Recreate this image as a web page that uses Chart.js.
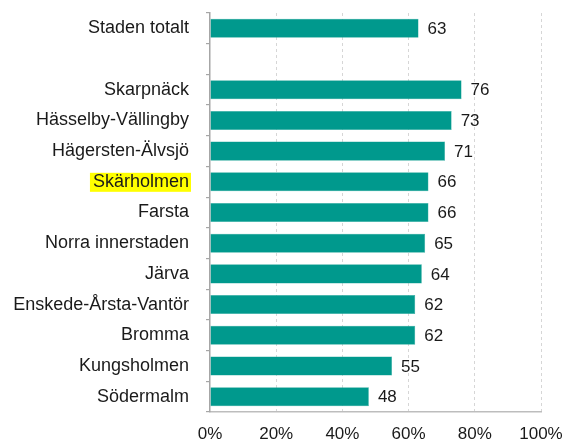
<!DOCTYPE html>
<html>
<head>
<meta charset="utf-8">
<script src="https://cdn.jsdelivr.net/npm/chart.js@4"></script>
<style>
  html, body { margin: 0; padding: 0; background: #fff; }
</style>
</head>
<body>
<canvas id="chart" width="566" height="441"></canvas>
<script>
// districts, top to bottom ('' = empty gap row)
const labels = [
  "Staden totalt", "",
  "Skarpnäck", "Hässelby-Vällingby", "Hägersten-Älvsjö", "Skärholmen",
  "Farsta", "Norra innerstaden", "Järva", "Enskede-Årsta-Vantör",
  "Bromma", "Kungsholmen", "Södermalm"
];
const values = [63, null, 76, 73, 71, 66, 66, 65, 64, 62, 62, 55, 48];
const xTicks = [0, 20, 40, 60, 80, 100];
const highlighted = "Skärholmen";

const FONT = "'Liberation Sans', Arial, sans-serif";
const TEXT = "#1a1a1a";

// value labels right of each bar
const valueLabels = {
  id: "valueLabels",
  afterDatasetsDraw(chart) {
    const ctx = chart.ctx;
    const meta = chart.getDatasetMeta(0);
    ctx.save();
    ctx.font = "17px " + FONT;
    ctx.fillStyle = TEXT;
    ctx.textAlign = "left";
    ctx.textBaseline = "middle";
    meta.data.forEach((bar, i) => {
      if (values[i] == null) return;
      ctx.fillText(String(values[i]), bar.x + 9, bar.y + 1);
    });
    ctx.restore();
  }
};

// yellow marker behind one category label
const highlightLabel = {
  id: "highlightLabel",
  beforeDraw(chart) {
    const y = chart.scales.y;
    const idx = labels.indexOf(highlighted);
    if (idx < 0) return;
    const ctx = chart.ctx;
    ctx.save();
    ctx.font = "18px " + FONT;
    const w = ctx.measureText(highlighted).width;
    const right = y.right - 4 - 17;
    const cy = y.getPixelForValue(idx);
    ctx.fillStyle = "#ffff00";
    ctx.fillRect(right - w - 3, cy - 9, w + 5, 19);
    ctx.restore();
  }
};

new Chart(document.getElementById("chart"), {
  type: "bar",
  data: {
    labels: labels,
    datasets: [{
      data: values,
      backgroundColor: "#00998d",
      borderColor: "#2aa89c",
      borderWidth: 0.5,
      barPercentage: 0.62,
      categoryPercentage: 1
    }]
  },
  options: {
    indexAxis: "y",
    responsive: false,
    animation: false,
    layout: { padding: { top: 13, right: 25, left: 0, bottom: 0 } },
    plugins: {
      legend: { display: false },
      tooltip: { enabled: false }
    },
    scales: {
      x: {
        min: 0,
        max: 100,
        afterBuildTicks: (s) => { s.ticks = xTicks.map(v => ({ value: v })); },
        afterFit: (s) => {
          s.height = 29;
          s.paddingLeft = 0;
          s.paddingRight = 0;
        },
        ticks: {
          callback: (v) => v + "%",
          padding: 12,
          color: TEXT,
          font: { size: 17, family: FONT }
        },
        grid: {
          drawTicks: false,
          color: (c) => c.tick && c.tick.value === 0 ? "rgba(0,0,0,0)" : "#d6d6d6",
          lineWidth: 1
        },
        border: { color: "#bdbdbd", width: 1.5, dash: [3, 3] }
      },
      y: {
        afterFit: (s) => {
          s.width = 210;
          s.paddingTop = 0;
          s.paddingBottom = 0;
        },
        ticks: {
          autoSkip: false,
          padding: 17,
          color: TEXT,
          font: { size: 18, family: FONT }
        },
        grid: {
          offset: true,
          drawOnChartArea: false,
          drawTicks: true,
          tickLength: 4,
          color: "#a6a6a6",
          lineWidth: 1.2
        },
        border: { color: "#a6a6a6", width: 1.5 }
      }
    }
  },
  plugins: [highlightLabel, valueLabels]
});
</script>
</body>
</html>
